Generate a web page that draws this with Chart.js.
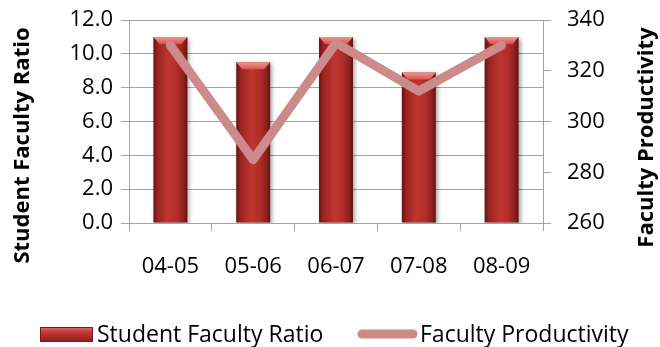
<!DOCTYPE html>
<html>
<head>
<meta charset="utf-8">
<script src="https://cdn.jsdelivr.net/npm/chart.js@4"></script>
<style>
  html, body { margin: 0; background: #fff; }
  #wrap { width: 660px; height: 347px; }
</style>
</head>
<body>
<div id="wrap"><canvas id="chart"></canvas></div>
<script>
const years = ["04-05", "05-06", "06-07", "07-08", "08-09"];
const ratio = [11.0, 9.5, 11.0, 8.9, 11.0];
const productivity = [330, 285, 331, 312, 330];

const ratioLabel = "Student Faculty Ratio";
const prodLabel = "Faculty Productivity";
const lineColor = "#cd8a8a";
const gridColor = "#a3a3a3";

Chart.defaults.font.family = "'Open Sans', sans-serif";
Chart.defaults.color = "#000";

// horizontal shading so the bars look like the old 3D columns
function barFill(ctx) {
  const chart = ctx.chart;
  const xs = chart.scales.x;
  if (!xs || !chart.chartArea) return "#ad2d29";
  const cx = xs.getPixelForValue(ctx.dataIndex);
  const w = (chart.chartArea.width / years.length) * 0.41;
  const g = chart.ctx.createLinearGradient(cx - w / 2, 0, cx + w / 2, 0);
  g.addColorStop(0, "#641212");
  g.addColorStop(0.12, "#992320");
  g.addColorStop(0.45, "#c0352f");
  g.addColorStop(0.7, "#b02d29");
  g.addColorStop(0.9, "#8c1f1c");
  g.addColorStop(1, "#5e1111");
  return g;
}

function drawBarBox(c, x, y, w, h) {
  const g = c.createLinearGradient(0, y, 0, y + h);
  g.addColorStop(0, "#e26a66");
  g.addColorStop(0.35, "#c23a35");
  g.addColorStop(1, "#8a1d1b");
  c.fillStyle = g;
  c.fillRect(x, y, w, h);
}

// keep the tick label overflow from pushing the plot area down
function fitY(width) {
  return (s) => {
    s.width = width;
    s.paddingTop = 0;
    s.paddingBottom = 0;
  };
}

const barStyle = {
  id: "barStyle",
  beforeDatasetDraw(chart, args) {
    if (args.index !== 1) return;
    const c = chart.ctx;
    c.save();
    c.shadowColor = "rgba(0,0,0,0.35)";
    c.shadowBlur = 4;
    c.shadowOffsetX = 2;
    c.shadowOffsetY = 2;
  },
  afterDatasetDraw(chart, args) {
    if (args.index !== 1) return;
    const c = chart.ctx;
    c.restore();
    // lighter bevelled cap on top of each bar
    args.meta.data.forEach((bar) => {
      const l = bar.x - bar.width / 2, r = bar.x + bar.width / 2, t = bar.y;
      const g = c.createLinearGradient(0, t, 0, t + 7);
      g.addColorStop(0, "#f39490");
      g.addColorStop(1, "#d8554f");
      c.fillStyle = g;
      c.beginPath();
      c.moveTo(l, t);
      c.lineTo(r, t);
      c.lineTo(r - 6, t + 7);
      c.lineTo(l + 6, t + 7);
      c.closePath();
      c.fill();
    });
  },
  afterDraw(chart) {
    const c = chart.ctx;
    const a = chart.chartArea;
    c.save();
    // axis titles, both reading bottom to top
    c.font = "bold 22px 'Open Sans', sans-serif";
    c.fillStyle = "#000";
    c.textAlign = "center";
    c.textBaseline = "middle";
    const mid = (a.top + a.bottom) / 2;
    c.save();
    c.translate(23, mid + 24);
    c.rotate(-Math.PI / 2);
    c.fillText(ratioLabel, 0, 0);
    c.restore();
    c.save();
    c.translate(647, mid + 16);
    c.rotate(-Math.PI / 2);
    c.fillText(prodLabel, 0, 0);
    c.restore();

    // legend
    const ly = 334;
    drawBarBox(c, 40, ly - 7, 53, 15);
    c.strokeStyle = "#7a1a18";
    c.lineWidth = 1;
    c.strokeRect(40.5, ly - 6.5, 52, 14);
    c.strokeStyle = lineColor;
    c.lineWidth = 9;
    c.lineCap = "round";
    c.beginPath();
    c.moveTo(362, ly);
    c.lineTo(413, ly);
    c.stroke();
    c.font = "23px 'Open Sans', sans-serif";
    c.textAlign = "left";
    c.fillStyle = "#000";
    c.fillText(ratioLabel, 97, ly + 1);
    c.fillText(prodLabel, 420, ly + 1);
    c.restore();
  },
};

new Chart("chart", {
  data: {
    labels: years,
    datasets: [
      {
        type: "line",
        label: prodLabel,
        data: productivity,
        yAxisID: "y1",
        borderColor: lineColor,
        borderWidth: 9,
        borderCapStyle: "round",
        borderJoinStyle: "round",
        pointRadius: 0,
        tension: 0,
        order: 0,
      },
      {
        type: "bar",
        label: ratioLabel,
        data: ratio,
        yAxisID: "y",
        backgroundColor: barFill,
        barPercentage: 0.41,
        categoryPercentage: 1,
        order: 1,
      },
    ],
  },
  options: {
    responsive: true,
    maintainAspectRatio: false,
    animation: false,
    layout: { padding: { top: 20, left: 0, right: 0, bottom: 0 } },
    plugins: {
      legend: { display: false },
      tooltip: { enabled: false },
    },
    scales: {
      x: {
        offset: true,
        grid: { offset: true, drawOnChartArea: false, tickLength: 8, color: gridColor },
        border: { color: gridColor },
        ticks: { font: { size: 22 }, padding: 23 },
        afterFit: (s) => { s.height = 124; },
      },
      y: {
        position: "left",
        min: 0,
        max: 12,
        ticks: { stepSize: 2, font: { size: 22 }, padding: 8, callback: (v) => v.toFixed(1) },
        grid: { color: gridColor, tickLength: 8 },
        border: { color: gridColor },
        afterFit: fitY(129),
      },
      y1: {
        position: "right",
        min: 260,
        max: 340,
        ticks: { stepSize: 20, font: { size: 22 }, padding: 16 },
        grid: { drawOnChartArea: false, color: gridColor, tickLength: 8 },
        border: { color: gridColor },
        afterFit: fitY(117),
      },
    },
  },
  plugins: [barStyle],
});
</script>
</body>
</html>
